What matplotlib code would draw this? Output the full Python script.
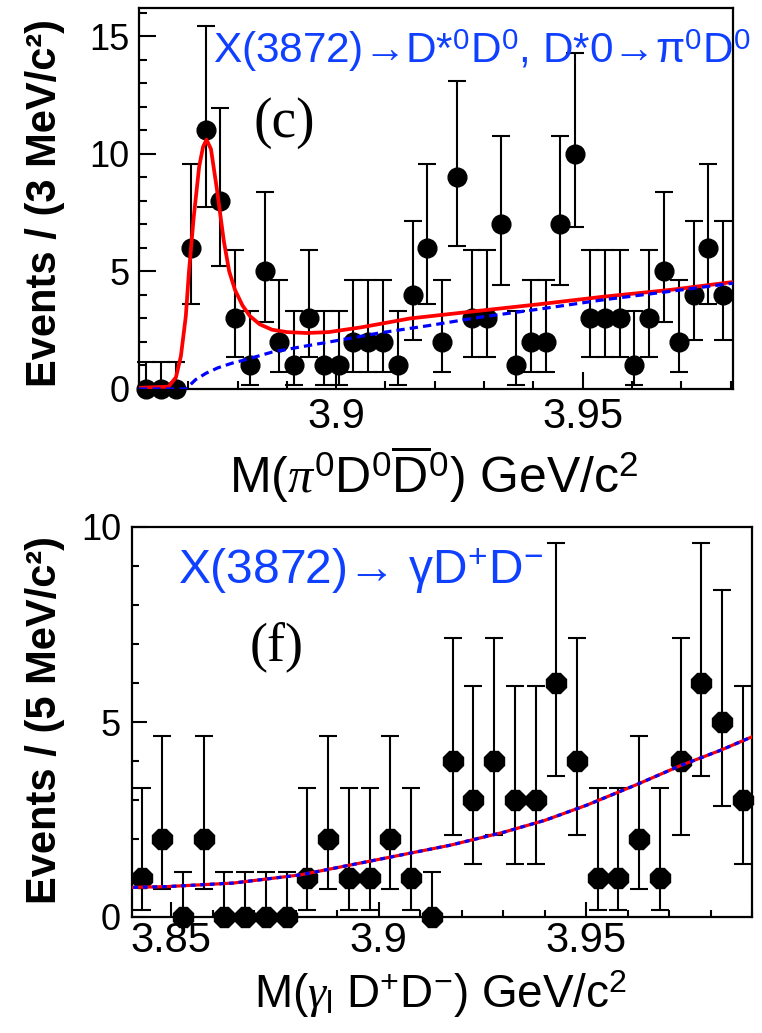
import numpy as np
import matplotlib.pyplot as plt
from matplotlib.ticker import MultipleLocator

plt.rcParams['font.family'] = ['Liberation Sans', 'DejaVu Sans']
plt.rcParams['mathtext.fontset'] = 'custom'
plt.rcParams['mathtext.rm'] = 'Liberation Sans'
plt.rcParams['mathtext.it'] = 'Liberation Serif:italic'
plt.rcParams['mathtext.bf'] = 'Liberation Sans:bold'

# poisson error bounds per count
err_lo_by_n = [0.0, 0.17, 0.71, 1.37, 2.09, 2.84, 3.62, 4.42, 5.23, 6.06, 6.89, 7.73]
err_hi_by_n = [1.15, 3.30, 4.64, 5.92, 7.16, 8.38, 9.58, 10.77, 11.95, 13.11, 14.27, 15.42]

# panel (c): 3 MeV bins from 3.86
c_first, c_step = 3.8615, 0.003
c_counts = [0, 0, 0, 6, 11, 8, 3, 1, 5, 2, 1, 3, 1, 1, 2, 2, 2, 1, 4, 6,
            2, 9, 3, 3, 7, 1, 2, 2, 7, 10, 3, 3, 3, 1, 3, 5, 2, 4, 6, 4]
c_fit_x = [3.8600, 3.8660, 3.8675, 3.8685, 3.8695, 3.8701, 3.8711, 3.8722, 3.8730, 3.8737,
           3.8746, 3.8758, 3.8772, 3.8783, 3.8795, 3.8810, 3.8825, 3.8845, 3.8870, 3.8900,
           3.8940, 3.8985, 3.9050, 3.9150, 3.9270, 3.9410, 3.9540, 3.9680, 3.9805]
c_fit_y = [0.05, 0.1, 0.5, 1.4, 3.1, 4.9, 7.3, 9.45, 10.3, 10.6,
           10.2, 8.5, 6.3, 5.0, 4.2, 3.55, 3.1, 2.75, 2.52, 2.42,
           2.38, 2.42, 2.62, 3.0, 3.28, 3.6, 3.92, 4.22, 4.55]
c_bkg_x = [3.8600, 3.8695, 3.8705, 3.8715, 3.8736, 3.8760, 3.8789, 3.8817, 3.8870, 3.8925,
           3.8986, 3.9087, 3.9189, 3.9291, 3.9413, 3.9541, 3.9677, 3.9805]
c_bkg_y = [0.0, 0.0, 0.2, 0.4, 0.67, 0.9, 1.1, 1.25, 1.57, 1.78,
           2.0, 2.38, 2.7, 3.05, 3.4, 3.79, 4.15, 4.5]
c_xticks = [3.9, 3.95]
c_xticklabels = ['3.9', '3.95']

# panel (f): 5 MeV bins
f_first, f_step = 3.8428, 0.005
f_counts = [1, 2, 0, 2, 0, 0, 0, 0, 1, 2, 1, 1, 2, 1, 0, 4, 3, 4, 3, 3,
            6, 4, 1, 1, 2, 1, 4, 6, 5, 3]
f_fit_x = [3.8408, 3.8490, 3.8649, 3.8811, 3.9011, 3.9172, 3.9300, 3.9401, 3.9502,
           3.9623, 3.9727, 3.9823, 3.9900]
f_fit_y = [0.76, 0.78, 0.87, 1.08, 1.50, 1.84, 2.17, 2.48, 2.87,
           3.40, 3.88, 4.27, 4.62]
f_xticks = [3.85, 3.9, 3.95]
f_xticklabels = ['3.85', '3.9', '3.95']

W, H = 762, 1033
fig = plt.figure(figsize=(W / 100, H / 100), dpi=100)


def px(x0, y0, x1, y1):
    return [x0 / W, 1 - y1 / H, (x1 - x0) / W, (y1 - y0) / H]


def draw_points(ax, first, step, counts, marker, ms):
    n = np.array(counts)
    x = first + step * np.arange(len(n))
    lo = n - np.array(err_lo_by_n)[n]
    hi = np.array(err_hi_by_n)[n] - n
    ax.errorbar(x, n, yerr=[lo, hi], fmt=marker, color='black', ms=ms,
                elinewidth=1.5, capsize=6.5, capthick=1.5, zorder=2, clip_on=False)


def style(ax, major_len, minor_len):
    for s in ax.spines.values():
        s.set_linewidth(1.6)
    ax.tick_params(which='both', direction='in', top=False, right=False, width=1.5)
    ax.tick_params(axis='y', labelsize=26)
    ax.tick_params(axis='x', labelsize=30)
    ax.tick_params(which='major', length=major_len)
    ax.tick_params(which='minor', length=minor_len)
    ax.yaxis.set_major_locator(MultipleLocator(5))
    ax.yaxis.set_minor_locator(MultipleLocator(1))
    ax.xaxis.set_minor_locator(MultipleLocator(0.01))


# ---- top panel (c)
ax1 = fig.add_axes(px(139, 8, 733, 389))
draw_points(ax1, c_first, c_step, c_counts, 'o', 13.5)
ax1.plot(c_fit_x, c_fit_y, color='red', lw=2.7, zorder=3)
ax1.plot(c_bkg_x, c_bkg_y, color='blue', lw=2.3, dashes=(2.6, 1.6), zorder=4)
ax1.set_xlim(3.86, 3.9805)
ax1.set_ylim(0, 16.2)
style(ax1, 12, 6)
ax1.set_xticks(c_xticks, c_xticklabels)
ax1.tick_params(axis='x', pad=6)
ax1.tick_params(axis='y', pad=7)

# ---- bottom panel (f)
ax2 = fig.add_axes(px(132, 527, 752, 917))
draw_points(ax2, f_first, f_step, f_counts, '8', 16)
ax2.plot(f_fit_x, f_fit_y, color='red', lw=2.3, zorder=3)
ax2.plot(f_fit_x, f_fit_y, color='blue', lw=2.3, dashes=(1.5, 1.5), zorder=4)
ax2.set_xlim(3.8405, 3.990)
ax2.set_ylim(0, 10)
style(ax2, 10.5, 5)
ax2.set_xticks(f_xticks, f_xticklabels)
ax2.tick_params(axis='x', pad=3)
ax2.tick_params(axis='y', pad=8)

# ---- texts
blue = '#1040ff'
fig.text(213 / W, 1 - 63 / H, 'X(3872)→D*$^{0}$D$^{0}$, D*0→π$^{0}$D$^{0}$',
         color=blue, fontsize=30.5, ha='left', va='baseline')
fig.text(178 / W, 1 - 583 / H, 'X(3872)→ γD$^{+}$D$^{-}$',
         color=blue, fontsize=34.5, ha='left', va='baseline')
fig.text(253 / W, 1 - 137 / H, '(c)', family='Liberation Serif', fontsize=40,
         ha='left', va='baseline')
fig.text(250 / W, 1 - 660 / H, '(f)', family='Liberation Serif', fontsize=39,
         ha='left', va='baseline')

fig.text(434 / W, 1 - 493 / H,
         r'M($\pi^{0}$D$^{0}\overline{\mathrm{D}}^{0}$) GeV/c$^{2}$',
         fontsize=36, ha='center', va='baseline')
fig.text(441 / W, 1 - 1008 / H,
         r'M($\gamma_{\mathrm{l}}$ D$^{+}$D$^{-}$) GeV/c$^{2}$',
         fontsize=33, ha='center', va='baseline')

fig.text(45 / W, 1 - 203 / H, 'Events / (3 MeV/c²)', rotation=90,
         fontsize=30, fontweight='bold', ha='center', va='center')
fig.text(45 / W, 1 - 720 / H, 'Events / (5 MeV/c²)', rotation=90,
         fontsize=30, fontweight='bold', ha='center', va='center')

fig.savefig('out.png', dpi=100)
